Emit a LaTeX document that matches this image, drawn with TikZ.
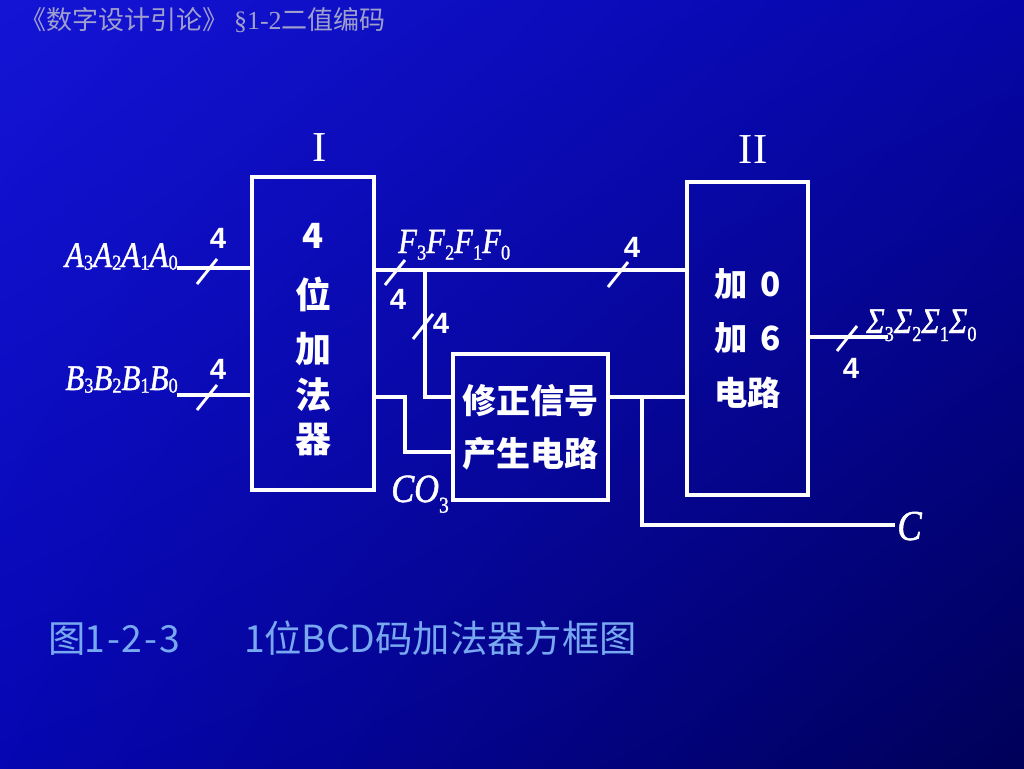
\documentclass[tikz,border=0pt]{standalone}
\usepackage{fontspec}
\setmainfont{Liberation Serif}
\newfontfamily\cjk{Noto Sans CJK SC}
\newfontfamily\labfont[FakeStretch=0.86,FakeBold=1.2]{Liberation Serif}
\newfontfamily\numfont{Liberation Sans}
\usetikzlibrary{shadings}
\definecolor{bgUL}{HTML}{1414D6}
\definecolor{bgUR}{HTML}{0606A8}
\definecolor{bgLL}{HTML}{0606B2}
\definecolor{bgLR}{HTML}{000058}
\definecolor{titlec}{HTML}{A0A0CC}
\definecolor{captc}{HTML}{78A8F0}
\newcommand\sbs[3]{\raisebox{#1}{\fontsize{#2}{#2}\selectfont\upshape #3}}
\newcommand\busname[3]{\textit{#1}\sbs{#2}{#3}{3}\textit{#1}\sbs{#2}{#3}{2}\textit{#1}\sbs{#2}{#3}{1}\textit{#1}\sbs{#2}{#3}{0}}
\newcommand\hw[1]{\makebox[0.5em]{#1}}
\begin{document}
\begin{tikzpicture}[x=0.75pt,y=-0.75pt,
  wire/.style={draw=white,line width=3pt,line join=miter},
  blk/.style={draw=white,line width=3pt,inner sep=0pt,align=center,text=white},
  num/.style={text=white,inner sep=0pt,font=\numfont\bfseries\fontsize{22}{22}\selectfont},
  lab/.style={text=white,inner sep=0pt,font=\labfont\fontsize{#1}{#1}\selectfont},
  roman/.style={text=white,inner sep=0pt,font=\rmfamily\fontsize{32}{32}\selectfont},
  busmark/.pic={\draw[white,line width=2.2pt] (-10,13) -- (10,-12);}
]
% background
\shade[upper left=bgUL, upper right=bgUR, lower left=bgLL, lower right=bgLR] (0,0) rectangle (1024,768);
\useasboundingbox (0,0) rectangle (1024,768);

% title and caption
\node[anchor=west, inner sep=0pt, text=titlec, font=\cjk\fontsize{19.5}{19.5}\selectfont] (title) at (20,20)
  {《数字设计引论》 {\rmfamily §1-2}二值编码};
\node[anchor=west, inner sep=0pt, text=captc, font=\cjk\fontsize{28}{28}\selectfont] (caption) at (48,638)
  {\makebox[148pt][l]{图\hw{1}\hw{-}\hw{2}\hw{-}\hw{3}}\hw{1}位BCD码加法器方框图};

% blocks
\node[blk, minimum width=91.5pt, minimum height=234.75pt] (blockI) at (313,333.5) {};
\node[align=center, text=white, inner sep=0pt,
      font=\cjk\bfseries\fontsize{27}{36}\selectfont] (blockItext) at (313,340)
  {{\fontsize{26}{36}\selectfont 4}\\[9pt]位\\[4.5pt]加\\[-1.5pt]法\\[-3pt]器};
\node[blk, minimum width=116.25pt, minimum height=109.5pt,
      font=\cjk\bfseries\fontsize{25.5}{40}\selectfont] (corr) at (530.5,427)
  {修正信号\\产生电路};
\node[blk, minimum width=90.75pt, minimum height=234.75pt,
      font=\cjk\bfseries\fontsize{25}{41}\selectfont] (blockII) at (747.5,338.5)
  {加\hspace{0.4em}0\\加\hspace{0.4em}6\\电路};

\node[roman] (romI) at (320,148) {I};
\node[roman] (romII) at (753,150) {II};

% coordinates
\coordinate (ain) at (177,268);
\coordinate (bin) at (177,395);
\coordinate (fy) at (376,270);
\coordinate (fbr) at (425,270);
\coordinate (cy) at (376,397);
\coordinate (cbend) at (405,397);
\coordinate (cbend2) at (405,452);
\coordinate (corrout) at (610,397);
\coordinate (cbr) at (642,397);
\coordinate (cdown) at (642,525);
\coordinate (cout) at (895,525);
\coordinate (sy) at (810,337);
\coordinate (sout) at (888,337);

% wires
\draw[wire] (ain) -- (ain -| blockI.west);
\draw[wire] (bin) -- (bin -| blockI.west);
\draw[wire] (fy -| blockI.east) -- (fy -| blockII.west);
\draw[wire] (fbr) -- (fbr |- corrout) -- (corrout -| corr.west);
\draw[wire] (cy -| blockI.east) -- (cbend) -- (cbend2) -- (cbend2 -| corr.west);
\draw[wire] (corrout -| corr.east) -- (corrout -| blockII.west);
\draw[wire] (cbr) -- (cdown) -- (cout);
\draw[wire] (sy -| blockII.east) -- (sout);

% bus marks
\pic at (207,271) {busmark};
\pic at (207,397) {busmark};
\pic at (395,272) {busmark};
\pic at (618,274) {busmark};
\pic at (423,326) {busmark};
\pic at (847,338) {busmark};

% bus widths
\node[num] (nA) at (218,238) {4};
\node[num] (nB) at (218,369) {4};
\node[num] (nF1) at (398,299) {4};
\node[num] (nF2) at (632,247) {4};
\node[num] (nBr) at (441,323) {4};
\node[num] (nS) at (851,368) {4};

% signal labels
\node[lab=27, anchor=base east] (labA) at (178,267) {\busname{A}{-2pt}{16}};
\node[lab=27, anchor=base east] (labB) at (178,390) {\busname{B}{-2pt}{16}};
\node[lab=26.5, anchor=base west] (labF) at (398,253) {\busname{F}{-5pt}{16}};
\node[lab=27, anchor=base west] (labS) at (866,333) {\busname{Σ}{-6pt}{16}};
\node[lab=30, anchor=base west] (labCO) at (391,502) {\textit{CO}\sbs{-8pt}{17}{3}};
\node[lab=32, anchor=base west] (labC) at (897,540) {\textit{C}};
\end{tikzpicture}
\end{document}
